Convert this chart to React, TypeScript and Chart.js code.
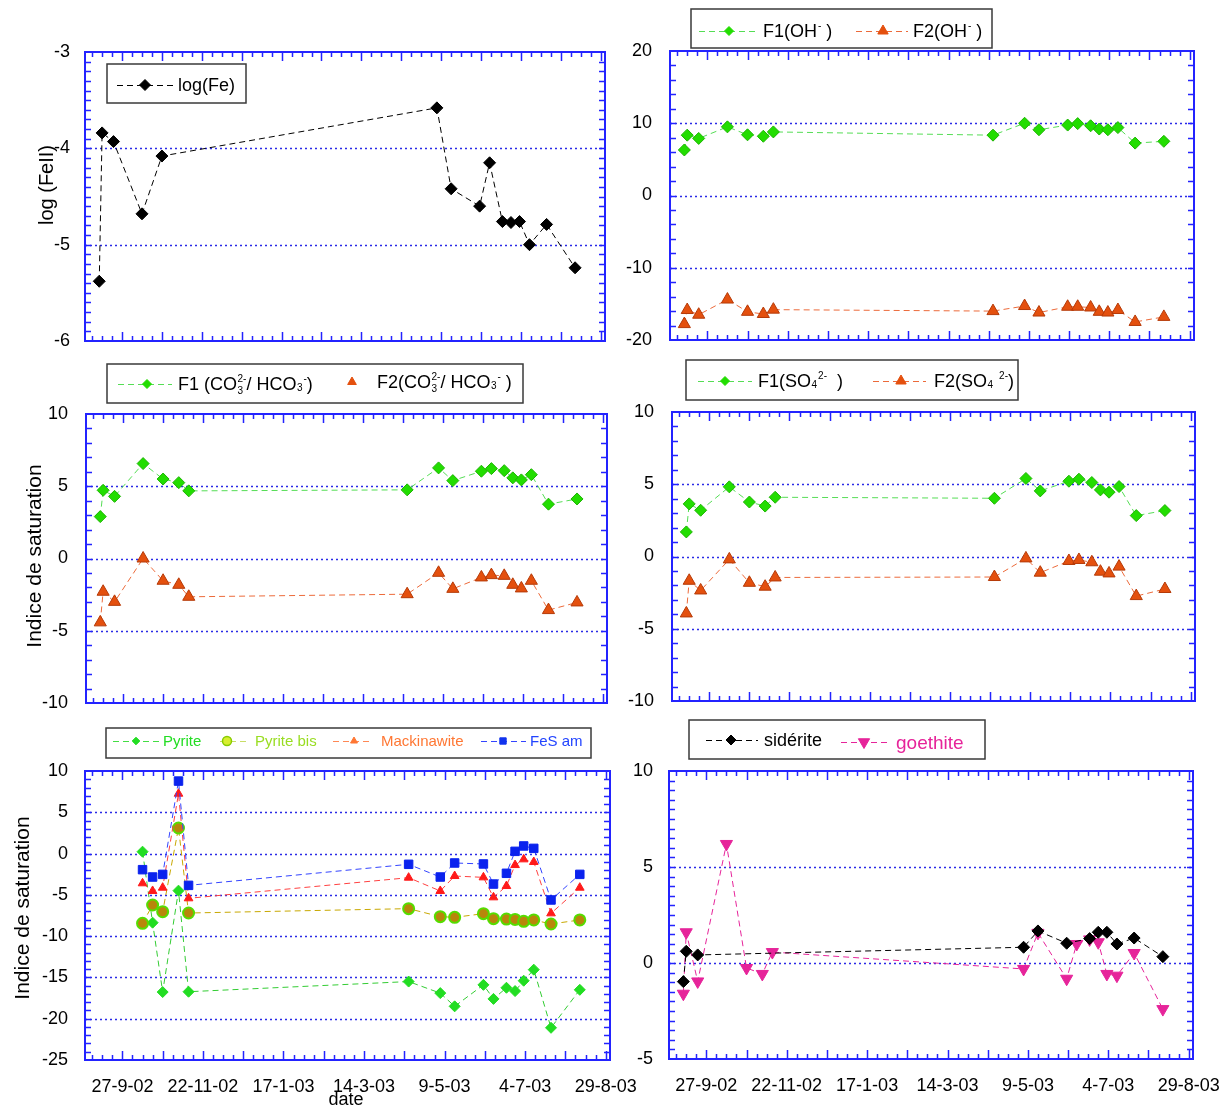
import React, { useEffect, useRef } from 'react';
import { Chart, registerables } from 'chart.js';

Chart.register(...registerables);

const FONT = '"Liberation Sans", Arial, Helvetica, sans-serif';

// ---------- data ----------
// x axis in days counted from 1-9-02
const xTickDays = [26, 82, 138, 194, 250, 306, 362];
const xTickLabels = ['27-9-02', '22-11-02', '17-1-03', '14-3-03', '9-5-03', '4-7-03', '29-8-03'];

const sampleDays = [10, 12, 20, 40, 54, 65, 72, 225, 247, 257, 277, 284, 293, 299, 305, 312, 324, 344];

const logFe = [-5.38, -3.84, -3.93, -4.68, -4.08, null, null, null, -3.58, -4.42, -4.6, -4.15, -4.76, -4.77, -4.76, -5.0, -4.79, -5.24];

const f1OH = [6.3, 8.35, 7.9, 9.5, 8.4, 8.2, 8.8, 8.35, 10.0, 9.1, 9.75, 9.95, 9.65, 9.2, 9.1, 9.4, 7.25, 7.5];
const f2OH = [-17.8, -15.85, -16.5, -14.4, -16.1, -16.4, -15.8, -16.0, -15.3, -16.2, -15.4, -15.4, -15.5, -16.1, -16.2, -15.85, -17.5, -16.8];

const f1CO3 = [2.9, 4.72, 4.3, 6.57, 5.5, 5.25, 4.68, 4.75, 6.27, 5.39, 6.04, 6.22, 6.08, 5.58, 5.44, 5.8, 3.76, 4.12];
const f2CO3 = [-4.42, -2.3, -3.0, 0.0, -1.54, -1.82, -2.65, -2.47, -0.99, -2.1, -1.31, -1.15, -1.2, -1.82, -2.07, -1.54, -3.57, -3.04];

const f1SO4 = [1.7, 3.64, 3.2, 4.82, 3.77, 3.49, 4.1, 4.03, 5.4, 4.54, 5.21, 5.35, 5.12, 4.61, 4.45, 4.84, 2.83, 3.18];
const f2SO4 = [-3.94, -1.68, -2.35, -0.2, -1.82, -2.09, -1.45, -1.42, -0.13, -1.12, -0.31, -0.24, -0.4, -1.05, -1.17, -0.7, -2.74, -2.25];

const sulfideDays = [40, 47, 54, 65, 72, 225, 247, 257, 277, 284, 293, 299, 305, 312, 324, 344];
const pyrite = [0.23, -8.37, -16.77, -4.49, -16.73, -15.5, -16.9, -18.5, -15.9, -17.6, -16.25, -16.65, -15.4, -14.06, -21.1, -16.5];
const pyriteBis = [-8.45, -6.23, -7.04, 3.1, -7.2, -6.67, -7.64, -7.72, -7.28, -7.88, -7.93, -7.97, -8.2, -8.04, -8.53, -8.04];
const mackinawite = [-3.6, -4.53, -4.13, 7.25, -5.42, -2.92, -4.53, -2.72, -2.88, -5.3, -3.93, -1.39, -0.7, -1.02, -7.24, -4.13];
const fesAm = [-1.95, -2.84, -2.52, 8.78, -3.85, -1.3, -2.84, -1.14, -1.26, -3.69, -2.39, 0.27, 0.92, 0.63, -5.62, -2.52];

const siderite = [-0.97, 0.61, 0.42, null, null, null, null, null, 0.82, 1.67, 1.03, null, 1.27, 1.6, 1.6, 0.99, 1.3, 0.33];
const goethite = [-1.6, 1.6, -0.96, 6.2, -0.26, -0.57, 0.57, null, -0.31, 1.57, -0.82, 0.99, 1.23, 1.08, -0.57, -0.66, 0.52, -2.4];

// ---------- styles ----------
const FRAME = '#2323ff';
const GRID = '#2b2be6';
const GREEN = '#22dd00';
const GREEN_EDGE = '#1cb400';
const GREEN_LINE = '#55dd55';
const ORANGE = '#e4500e';
const ORANGE_EDGE = '#b53a08';
const ORANGE_LINE = '#ec6a3a';
const GOE = '#e6249a';

const pts = (xs: number[], ys: (number | null)[]) => xs.map((x, i) => ({ x, y: ys[i] }));

function series(label: string, xs: number[], ys: (number | null)[], s: any) {
  return {
    label,
    data: pts(xs, ys),
    borderColor: s.line,
    borderWidth: 1,
    borderDash: s.dash || [6, 4],
    pointStyle: s.shape,
    pointRadius: s.r,
    pointRotation: s.rot || 0,
    pointBackgroundColor: s.fill,
    pointBorderColor: s.edge,
    pointBorderWidth: s.bw ?? 1,
    spanGaps: true,
    tension: 0,
    fill: false,
  };
}

const greenDiamond = { shape: 'rectRot', r: 6, fill: GREEN, edge: GREEN_EDGE, line: GREEN_LINE };
const orangeTri = { shape: 'triangle', r: 7, fill: ORANGE, edge: ORANGE_EDGE, line: ORANGE_LINE };

const panels: any[] = [
  {
    key: 'tl', left: 0, top: 0, w: 615, h: 385,
    area: { l: 85, t: 52, r: 605, b: 341 }, yw: 60, yPad: 15,
    yMin: -6, yMax: -3, yMajor: 1, yMinor: 0.1, gridVals: [-4, -5],
    xLabels: false,
    datasets: [series('log(Fe)', sampleDays, logFe, { shape: 'rectRot', r: 6, fill: '#000', edge: '#000', line: '#000' })],
    legend: {
      x: 107, y: 64, w: 139, h: 39,
      items: [{ x0: 117, x1: 173, mx: 145, cy: 85, shape: 'rectRot', r: 5.5, fill: '#000', edge: '#000', line: '#000', tx: 178, segs: [['n', 'log(Fe)']], size: 18, color: '#000' }],
    },
    titles: [{ text: 'log (FeII)', x: 47, y: 185, size: 20, rot: true }],
  },
  {
    key: 'tr', left: 615, top: 0, w: 650, h: 385,
    area: { l: 670, t: 51, r: 1194, b: 340 }, yw: 50, yPad: 18,
    yMin: -20, yMax: 20, yMajor: 10, yMinor: 2, gridVals: [10, 0, -10],
    xLabels: false,
    datasets: [
      series('F1(OH-)', sampleDays, f1OH, greenDiamond),
      series('F2(OH-)', sampleDays, f2OH, orangeTri),
    ],
    legend: {
      x: 691, y: 9, w: 301, h: 39,
      items: [
        { x0: 699, x1: 758, mx: 729, cy: 31, shape: 'rectRot', r: 4.5, fill: GREEN, edge: GREEN, line: GREEN_LINE, tx: 763, segs: [['n', 'F1(OH'], ['sup', '-'], ['n', ' )']], size: 18, color: '#000' },
        { x0: 856, x1: 908, mx: 883, cy: 31, shape: 'triangle', r: 6, fill: ORANGE, edge: ORANGE, line: ORANGE_LINE, tx: 913, segs: [['n', 'F2(OH'], ['sup', '-'], ['n', ' )']], size: 18, color: '#000' },
      ],
    },
    titles: [],
  },
  {
    key: 'ml', left: 0, top: 355, w: 615, h: 385,
    area: { l: 86, t: 414, r: 607, b: 703 }, yw: 60, yPad: 18,
    yMin: -10, yMax: 10, yMajor: 5, yMinor: 1, gridVals: [5, 0, -5],
    xLabels: false,
    datasets: [
      series('F1 (CO3 2-/HCO3-)', sampleDays, f1CO3, greenDiamond),
      series('F2 (CO3 2-/HCO3-)', sampleDays, f2CO3, orangeTri),
    ],
    legend: {
      x: 107, y: 364, w: 416, h: 39,
      items: [
        { x0: 118, x1: 172, mx: 147, cy: 384, shape: 'rectRot', r: 4.5, fill: GREEN, edge: GREEN, line: GREEN_LINE, tx: 178, segs: [['n', 'F1 (CO'], ['ss', '3', '2-'], ['n', '/ HCO'], ['sm', '3'], ['sup', '-'], ['n', ')']], size: 18, color: '#000' },
        { mx: 352, cy: 382, shape: 'triangle', r: 5, fill: ORANGE, edge: ORANGE, tx: 377, segs: [['n', 'F2(CO'], ['ss', '3', '2-'], ['n', '/ HCO'], ['sm', '3'], ['sup', '-'], ['n', ' )']], size: 18, color: '#000' },
      ],
    },
    titles: [{ text: 'Indice de saturation', x: 35, y: 556, size: 21, rot: true }],
  },
  {
    key: 'mr', left: 615, top: 355, w: 650, h: 385,
    area: { l: 672, t: 412, r: 1195, b: 701 }, yw: 50, yPad: 18,
    yMin: -10, yMax: 10, yMajor: 5, yMinor: 1, gridVals: [5, 0, -5],
    xLabels: false,
    datasets: [
      series('F1(SO4 2-)', sampleDays, f1SO4, greenDiamond),
      series('F2(SO4 2-)', sampleDays, f2SO4, orangeTri),
    ],
    legend: {
      x: 686, y: 360, w: 332, h: 40,
      items: [
        { x0: 698, x1: 752, mx: 725, cy: 381, shape: 'rectRot', r: 4.5, fill: GREEN, edge: GREEN, line: GREEN_LINE, tx: 758, segs: [['n', 'F1(SO'], ['sm', '4'], ['sup', '2-'], ['n', '  )']], size: 18, color: '#000' },
        { x0: 873, x1: 926, mx: 901, cy: 381, shape: 'triangle', r: 6, fill: ORANGE, edge: ORANGE, line: ORANGE_LINE, tx: 934, segs: [['n', 'F2(SO'], ['sm', '4'], ['n', ' '], ['sup', '2-'], ['n', ')']], size: 18, color: '#000' },
      ],
    },
    titles: [],
  },
  {
    key: 'bl', left: 0, top: 715, w: 660, h: 393,
    area: { l: 85, t: 771, r: 610, b: 1060 }, yw: 60, yPad: 17, xh: 45,
    yMin: -25, yMax: 10, yMajor: 5, yMinor: 1, gridVals: [5, 0, -5, -10, -15, -20],
    xLabels: true,
    datasets: [
      series('FeS am', sulfideDays, fesAm, { shape: 'rect', r: 6, fill: '#0a22ee', edge: '#0a22ee', line: '#3344ff' }),
      series('Mackinawite', sulfideDays, mackinawite, { shape: 'triangle', r: 5, fill: '#ff1a1a', edge: '#ff1a1a', line: '#ff4040' }),
      series('Pyrite bis', sulfideDays, pyriteBis, { shape: 'circle', r: 5.5, fill: '#b8860b', edge: '#55dd00', bw: 2, line: '#c8a800' }),
      series('Pyrite', sulfideDays, pyrite, { shape: 'rectRot', r: 5.5, fill: '#22dd22', edge: '#22dd22', line: '#33cc33' }),
    ],
    legend: {
      x: 106, y: 728, w: 485, h: 30,
      items: [
        { x0: 113, x1: 160, mx: 136, cy: 741, shape: 'rectRot', r: 3.8, fill: '#22dd22', edge: '#22dd22', line: '#44dd44', tx: 163, segs: [['n', 'Pyrite']], size: 15, color: '#22dd22' },
        { x0: 220, x1: 250, mx: 227, cy: 741, shape: 'circle', r: 4.5, fill: '#d8ee30', edge: '#88cc00', bw: 1.5, line: '#c8dd66', tx: 255, segs: [['n', 'Pyrite bis']], size: 15, color: '#99dd22' },
        { x0: 333, x1: 373, mx: 354, cy: 741, shape: 'triangle', r: 4, fill: '#ff7733', edge: '#ff7733', line: '#ff8855', tx: 381, segs: [['n', 'Mackinawite']], size: 15, color: '#ff7733' },
        { x0: 481, x1: 526, mx: 503, cy: 741, shape: 'rect', r: 4.5, fill: '#1133ee', edge: '#1133ee', line: '#3344ff', tx: 530, segs: [['n', 'FeS am']], size: 15, color: '#2244ff' },
      ],
    },
    titles: [
      { text: 'Indice de saturation', x: 23, y: 908, size: 21, rot: true },
      { text: 'date', x: 346, y: 1100, size: 18, rot: false },
    ],
  },
  {
    key: 'br', left: 615, top: 715, w: 650, h: 393,
    area: { l: 669, t: 771, r: 1193, b: 1059 }, yw: 50, yPad: 16, xh: 45,
    yMin: -5, yMax: 10, yMajor: 5, yMinor: 0.5, gridVals: [5, 0],
    xLabels: true,
    datasets: [
      series('sidérite', sampleDays, siderite, { shape: 'rectRot', r: 6, fill: '#000', edge: '#000', line: '#000' }),
      series('goethite', sampleDays, goethite, { shape: 'triangle', r: 7, rot: 180, fill: GOE, edge: GOE, line: GOE }),
    ],
    legend: {
      x: 689, y: 720, w: 296, h: 39,
      items: [
        { x0: 706, x1: 758, mx: 731, cy: 740, shape: 'rectRot', r: 5, fill: '#000', edge: '#000', line: '#000', tx: 764, segs: [['n', 'sidérite']], size: 18, color: '#000' },
        { x0: 841, x1: 891, mx: 864, cy: 742, shape: 'triangle', rot: 180, r: 6.5, fill: GOE, edge: GOE, line: GOE, tx: 896, segs: [['n', 'goethite']], size: 19, color: GOE },
      ],
    },
    titles: [],
  },
];

// ---------- drawing helpers ----------
function drawMarker(ctx: CanvasRenderingContext2D, it: any, x: number, y: number) {
  const r = it.r;
  ctx.save();
  ctx.setLineDash([]);
  ctx.beginPath();
  if (it.shape === 'rectRot') {
    ctx.moveTo(x - r, y); ctx.lineTo(x, y - r); ctx.lineTo(x + r, y); ctx.lineTo(x, y + r); ctx.closePath();
  } else if (it.shape === 'triangle') {
    const s = it.rot ? -1 : 1;
    ctx.moveTo(x, y - s * r);
    ctx.lineTo(x + r * 0.866, y + s * r / 2);
    ctx.lineTo(x - r * 0.866, y + s * r / 2);
    ctx.closePath();
  } else if (it.shape === 'rect') {
    const h = r * Math.SQRT1_2;
    ctx.rect(x - h, y - h, 2 * h, 2 * h);
  } else {
    ctx.arc(x, y, r, 0, Math.PI * 2);
  }
  ctx.fillStyle = it.fill;
  ctx.fill();
  ctx.lineWidth = it.bw || 1;
  ctx.strokeStyle = it.edge;
  ctx.stroke();
  ctx.restore();
}

function drawRich(ctx: CanvasRenderingContext2D, segs: any[], x: number, cy: number, size: number, color: string) {
  ctx.save();
  ctx.fillStyle = color;
  ctx.textAlign = 'left';
  ctx.textBaseline = 'alphabetic';
  const base = cy + size * 0.36;
  const small = Math.round(size * 0.58);
  let cx = x;
  for (const [k, t, t2] of segs) {
    if (k === 'n') {
      ctx.font = `${size}px ${FONT}`;
      ctx.fillText(t, cx, base);
      cx += ctx.measureText(t).width;
    } else if (k === 'sup') {
      ctx.font = `${small}px ${FONT}`;
      ctx.fillText(t, cx + 1, base - size * 0.45);
      cx += ctx.measureText(t).width + 1;
    } else if (k === 'sm') {
      ctx.font = `${small}px ${FONT}`;
      ctx.fillText(t, cx + 0.5, base + size * 0.05);
      cx += ctx.measureText(t).width + 0.5;
    } else if (k === 'ss') {
      ctx.font = `${small}px ${FONT}`;
      ctx.fillText(t, cx + 0.5, base + size * 0.2);
      ctx.fillText(t2, cx + 0.5, base - size * 0.45);
      cx += Math.max(ctx.measureText(t).width, ctx.measureText(t2).width) + 0.5;
    }
  }
  ctx.restore();
}

function drawLegend(ctx: CanvasRenderingContext2D, L: any, ox: number, oy: number) {
  ctx.save();
  ctx.fillStyle = '#fff';
  ctx.fillRect(L.x - ox, L.y - oy, L.w, L.h);
  ctx.strokeStyle = '#3a3a3a';
  ctx.lineWidth = 1.5;
  ctx.setLineDash([]);
  ctx.strokeRect(L.x - ox, L.y - oy, L.w, L.h);
  for (const it of L.items) {
    const cy = it.cy - oy;
    if (it.x0 !== undefined) {
      ctx.save();
      ctx.strokeStyle = it.line;
      ctx.lineWidth = 1;
      ctx.setLineDash([6, 4]);
      ctx.beginPath();
      ctx.moveTo(it.x0 - ox, cy + 0.5);
      ctx.lineTo(it.x1 - ox, cy + 0.5);
      ctx.stroke();
      ctx.restore();
    }
    drawMarker(ctx, it, it.mx - ox, cy);
    drawRich(ctx, it.segs, it.tx - ox, cy, it.size, it.color);
  }
  ctx.restore();
}

function panelPlugin(spec: any) {
  return {
    id: 'panelDeco',
    beforeDatasetsDraw(chart: any) {
      const { ctx, chartArea: a } = chart;
      const ys = chart.scales.y;
      ctx.save();
      ctx.strokeStyle = GRID;
      ctx.lineWidth = 1.5;
      ctx.setLineDash([2, 3]);
      for (const v of spec.gridVals) {
        const py = Math.round(ys.getPixelForValue(v)) + 0.5;
        ctx.beginPath();
        ctx.moveTo(a.left, py);
        ctx.lineTo(a.right, py);
        ctx.stroke();
      }
      ctx.restore();
    },
    afterDatasetsDraw(chart: any) {
      const { ctx, chartArea: a } = chart;
      const xs = chart.scales.x;
      const ys = chart.scales.y;
      ctx.save();
      ctx.strokeStyle = FRAME;
      ctx.lineWidth = 1.5;
      ctx.setLineDash([]);
      ctx.beginPath();
      for (let d = 5; d <= 365; d += 7) {
        const px = Math.round(xs.getPixelForValue(d)) + 0.5;
        const len = (d - 26) % 28 === 0 ? 9 : 5;
        ctx.moveTo(px, a.top); ctx.lineTo(px, a.top + len);
        ctx.moveTo(px, a.bottom); ctx.lineTo(px, a.bottom - len);
      }
      const n = Math.round((spec.yMax - spec.yMin) / spec.yMinor);
      for (let i = 1; i < n; i++) {
        const v = spec.yMin + i * spec.yMinor;
        const py = Math.round(ys.getPixelForValue(v)) + 0.5;
        ctx.moveTo(a.left, py); ctx.lineTo(a.left + 6, py);
        ctx.moveTo(a.right, py); ctx.lineTo(a.right - 6, py);
      }
      ctx.stroke();
      ctx.lineWidth = 2;
      ctx.strokeRect(a.left, a.top, a.right - a.left, a.bottom - a.top);
      ctx.restore();

      drawLegend(ctx, spec.legend, spec.left, spec.top);

      for (const t of spec.titles) {
        ctx.save();
        ctx.fillStyle = '#000';
        ctx.font = `${t.size}px ${FONT}`;
        ctx.textAlign = 'center';
        ctx.textBaseline = 'middle';
        ctx.translate(t.x - spec.left, t.y - spec.top);
        if (t.rot) ctx.rotate(-Math.PI / 2);
        ctx.fillText(t.text, 0, 0);
        ctx.restore();
      }
    },
  };
}

function buildConfig(spec: any): any {
  const majors: number[] = [];
  for (let v = spec.yMin; v <= spec.yMax + 1e-9; v += spec.yMajor) majors.push(Math.round(v * 1000) / 1000);
  const xh = spec.xLabels ? spec.xh : 0;
  return {
    type: 'line',
    data: { datasets: spec.datasets },
    options: {
      responsive: false,
      maintainAspectRatio: false,
      animation: false,
      devicePixelRatio: 1,
      events: [],
      layout: {
        padding: {
          left: spec.area.l - spec.left - spec.yw,
          top: spec.area.t - spec.top,
          right: spec.left + spec.w - spec.area.r,
          bottom: spec.top + spec.h - spec.area.b - xh,
        },
      },
      plugins: { legend: { display: false }, tooltip: { enabled: false }, title: { display: false } },
      scales: {
        x: {
          type: 'linear', min: 0, max: 365,
          display: spec.xLabels,
          grid: { display: false, drawTicks: false },
          border: { display: false },
          afterBuildTicks: (s: any) => { s.ticks = xTickDays.map((v) => ({ value: v })); },
          afterFit: (s: any) => { s.height = xh; },
          ticks: {
            autoSkip: false, maxRotation: 0, minRotation: 0, padding: 16, color: '#000',
            font: { family: FONT, size: 18 },
            callback: (v: number) => { const i = xTickDays.indexOf(v); return i >= 0 ? xTickLabels[i] : ''; },
          },
        },
        y: {
          type: 'linear', min: spec.yMin, max: spec.yMax,
          grid: { display: false, drawTicks: false },
          border: { display: false },
          afterBuildTicks: (s: any) => { s.ticks = majors.map((v) => ({ value: v })); },
          afterFit: (s: any) => { s.width = spec.yw; },
          ticks: {
            autoSkip: false, padding: spec.yPad, color: '#000',
            font: { family: FONT, size: 18 },
            callback: (v: number) => String(v),
          },
        },
      },
    },
    plugins: [panelPlugin(spec)],
  };
}

function Panel({ spec }: { spec: any }) {
  const ref = useRef<HTMLCanvasElement | null>(null);
  useEffect(() => {
    if (!ref.current) return;
    const chart = new Chart(ref.current, buildConfig(spec));
    return () => chart.destroy();
  }, [spec]);
  return (
    <canvas
      ref={ref}
      width={spec.w}
      height={spec.h}
      style={{ position: 'absolute', left: spec.left, top: spec.top, width: spec.w, height: spec.h }}
    />
  );
}

export default function App() {
  return (
    <div style={{ position: 'fixed', left: 0, top: 0, width: 1227, height: 1108, background: '#fff', overflow: 'hidden' }}>
      {panels.map((p) => <Panel key={p.key} spec={p} />)}
    </div>
  );
}
